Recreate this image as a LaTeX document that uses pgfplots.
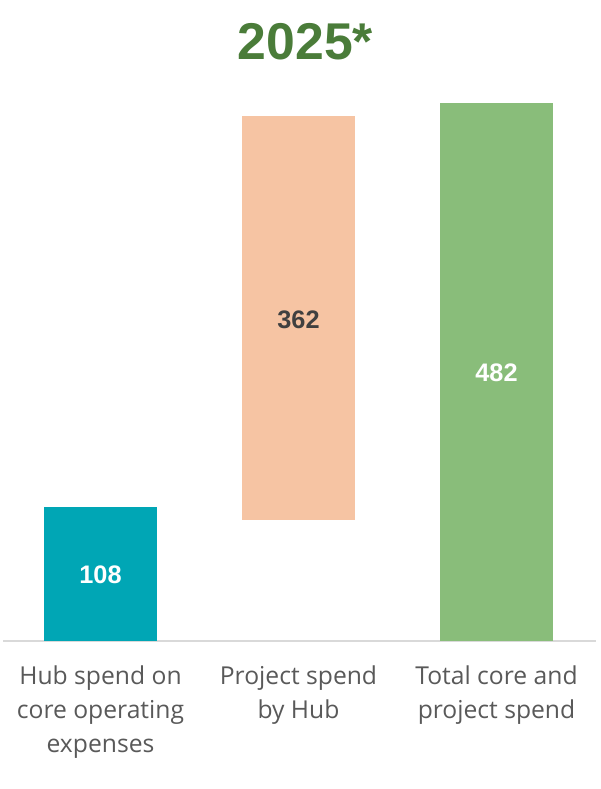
\documentclass[border=0pt]{standalone}
\usepackage{pgfplots}
\pgfplotsset{compat=1.18}
\usepackage{fontspec}
\setmainfont{Open Sans}
\newfontfamily\numfont{Liberation Sans}
\definecolor{cteal}{HTML}{00A6B5}
\definecolor{cpeach}{HTML}{F6C4A3}
\definecolor{cgreen}{HTML}{89BD7A}
\definecolor{ctitle}{HTML}{4A7C39}
\definecolor{ctext}{HTML}{595959}
\definecolor{cdark}{HTML}{404040}
\definecolor{cbase}{HTML}{D9D9D9}
\begin{document}
\begin{tikzpicture}
\useasboundingbox (-2.25pt,-111pt) rectangle (447.75pt,480.75pt);
\begin{axis}[
  at={(0,0)}, anchor=south west,
  scale only axis,
  width=444.75pt, height=403.5pt,
  xmin=-0.4924, xmax=2.5025,
  ymin=0, ymax=482,
  clip=false,
  ybar stacked,
  bar width=84.75pt,
  axis x line=bottom,
  x axis line style={-, draw=cbase, line width=1.1pt},
  hide y axis,
  xtick={0,1,2},
  xticklabels={{Hub spend on\\core operating\\expenses},{Project spend\\by Hub},{Total core and\\project spend}},
  major tick length=0pt,
  xticklabel style={anchor=north, inner sep=0pt, yshift=-18.5pt, align=center, text=ctext,
    font=\fontsize{18.5}{25.3}\selectfont},
]
% invisible base for floating bar
\addplot[fill=none, draw=none] coordinates {(0,0) (1,108) (2,0)};
\addplot[fill=cteal, draw=none] coordinates {(0,120) (1,0) (2,0)};
\addplot[fill=cpeach, draw=none] coordinates {(0,0) (1,362) (2,0)};
\addplot[fill=cgreen, draw=none] coordinates {(0,0) (1,0) (2,482)};
\coordinate (L1) at (axis cs:0,59);
\coordinate (L2) at (axis cs:1,288);
\coordinate (L3) at (axis cs:2,240);
\end{axis}
\node[text=white, font=\numfont\bfseries\fontsize{19}{21}\selectfont] at (L1) {108};
\node[text=cdark, font=\numfont\bfseries\fontsize{19}{21}\selectfont] at (L2) {362};
\node[text=white, font=\numfont\bfseries\fontsize{19}{21}\selectfont] at (L3) {482};
\node[anchor=base, text=ctitle, font=\numfont\bfseries\fontsize{38.8}{42}\selectfont] at (226.9pt,435.75pt) {2025*};
\end{tikzpicture}
\end{document}
